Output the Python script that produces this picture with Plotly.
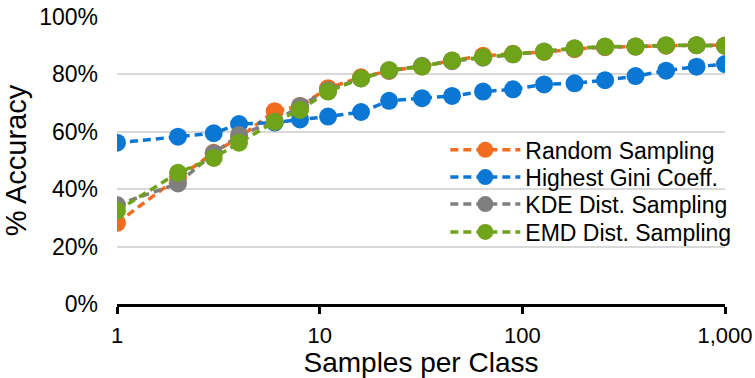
import plotly.graph_objects as go

samples = [1, 2, 3, 4, 6, 8, 11, 16, 22, 32, 45, 64, 90, 128, 181, 256, 362, 512, 724, 1000]
random_sampling = [0.283, 0.44, 0.527, 0.58, 0.672, 0.69, 0.752, 0.79, 0.812, 0.828, 0.848, 0.865, 0.872, 0.878, 0.888, 0.895, 0.897, 0.900, 0.902, 0.901]
highest_gini = [0.562, 0.583, 0.595, 0.627, 0.632, 0.643, 0.653, 0.669, 0.708, 0.717, 0.725, 0.740, 0.748, 0.765, 0.769, 0.780, 0.794, 0.813, 0.827, 0.836]
kde_dist = [0.345, 0.420, 0.525, 0.589, 0.635, 0.690, 0.745, 0.786, 0.813, 0.830, 0.846, 0.858, 0.870, 0.880, 0.890, 0.896, 0.897, 0.901, 0.902, 0.900]
emd_dist = [0.325, 0.457, 0.509, 0.562, 0.635, 0.676, 0.740, 0.786, 0.815, 0.827, 0.848, 0.860, 0.870, 0.879, 0.891, 0.897, 0.897, 0.902, 0.902, 0.899]

series = [
    ("Random Sampling", random_sampling, "#F36B1C"),
    ("Highest Gini Coeff.", highest_gini, "#0B77D4"),
    ("KDE Dist. Sampling", kde_dist, "#7F7F7F"),
    ("EMD Dist. Sampling", emd_dist, "#6FA31A"),
]

x_tickvals = [1, 10, 100, 1000]
x_ticktext = ["1", "10", "100", "1,000"]
y_tickvals = [0, 0.2, 0.4, 0.6, 0.8, 1.0]
y_ticktext = ["0%", "20%", "40%", "60%", "80%", "100%"]

font = "Liberation Sans, Arial, sans-serif"
legend_names = ["legend", "legend2", "legend3", "legend4"]
legend_y = [0.537, 0.442, 0.348, 0.251]

fig = go.Figure()
for (name, vals, color), lg in zip(series, legend_names):
    fig.add_trace(go.Scatter(
        x=samples, y=vals, name=name, mode="lines+markers",
        line=dict(color=color, width=3.5, dash="8px,5px"),
        marker=dict(color=color, size=18),
        legend=lg, showlegend=True,
    ))

legend_layout = {}
for lg, ly in zip(legend_names, legend_y):
    legend_layout[lg] = dict(
        x=0.540, y=ly, xanchor="left", yanchor="middle",
        font=dict(size=23, family=font, color="#000000"),
        itemwidth=70, bgcolor="rgba(0,0,0,0)",
    )

fig.update_layout(
    width=755, height=378,
    margin=dict(l=117, r=30, t=17, b=74),
    paper_bgcolor="white", plot_bgcolor="white",
    font=dict(family=font, color="#000000", size=22),
    showlegend=True,
    xaxis=dict(
        type="log", range=[0, 3], automargin=False,
        tickvals=x_tickvals, ticktext=x_ticktext,
        showgrid=False, showline=True, linecolor="#000000", linewidth=2.5,
        ticks="outside", ticklen=7, tickwidth=2.5, tickcolor="#000000",
        ticklabelstandoff=3, tickfont=dict(size=22),
        title=dict(text="Samples per Class", font=dict(size=28), standoff=7),
    ),
    yaxis=dict(
        range=[0, 1.0], automargin=False,
        tickvals=y_tickvals, ticktext=y_ticktext,
        showgrid=True, gridcolor="#D9D9D9", gridwidth=1.5,
        zeroline=False, showline=False,
        ticks="", ticklabelstandoff=18, tickfont=dict(size=23),
        title=dict(text="% Accuracy", font=dict(size=29), standoff=6),
    ),
    **legend_layout,
)

fig.write_html("out.html")
